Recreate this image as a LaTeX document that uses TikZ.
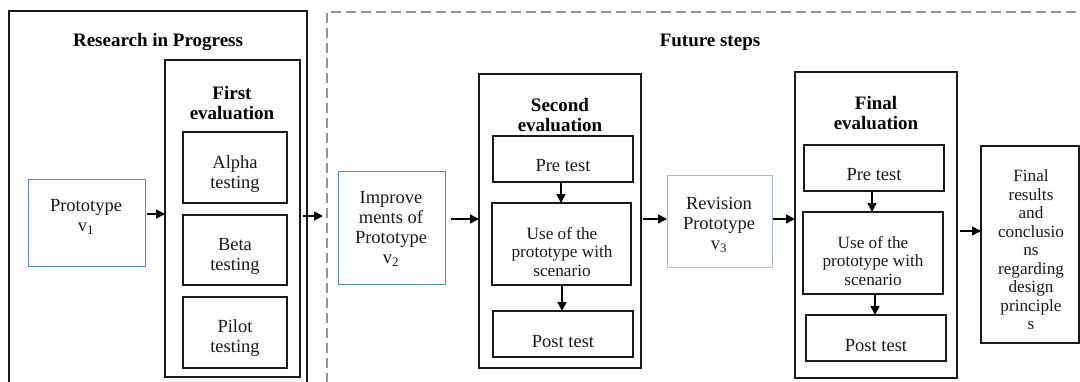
\documentclass[tikz,border=0pt]{standalone}
\usepackage{fontspec}
\setmainfont{Liberation Serif}
\usetikzlibrary{arrows.meta,calc}
\definecolor{bl}{HTML}{5B8BC4}
\definecolor{lbl}{HTML}{A9BDD9}
\definecolor{ink}{HTML}{1A1A1A}
\newcommand{\bx}[6]{\node[#1, anchor=north west, inner sep=0pt, outer sep=0pt, minimum width={(#5-#3)*1pt}, minimum height={(#6-#4)*1pt}] (#2) at (#3,#4) {};}
\tikzset{
  outerbox/.style={draw=ink, line width=1.5pt},
  evalbox/.style={draw=ink, line width=1.8pt},
  inbox/.style={draw=ink, line width=1.8pt},
  bluebox/.style={draw=bl, line width=1pt},
  lbluebox/.style={draw=lbl, line width=1pt},
  dashbox/.style={draw=gray!85, line width=1.3pt, dash pattern=on 10pt off 5pt},
  arr/.style={draw=black, line width=1.5pt, -{Triangle[length=9pt,width=9pt]}},
  txt/.style={font=\fontsize{18.5}{20}\selectfont, align=center, inner sep=0pt, text=ink},
  stxt/.style={font=\fontsize{17.2}{18.5}\selectfont, align=center, inner sep=0pt, text=ink},
  ttl/.style={font=\fontsize{19}{20}\selectfont\bfseries, align=center, inner sep=0pt, text=black}
}
\begin{document}
\begin{tikzpicture}[x=1pt,y=-1pt]
\useasboundingbox (0,0) rectangle (1080,381);
\clip (0,0) rectangle (1080,381);
\fill[white] (0,0) rectangle (1080,381);
% Research in progress
\bx{outerbox}{rip}{9}{11}{307}{400}
\node[ttl] (ript) at (158,42) {Research in Progress};
\bx{bluebox}{pv1}{28}{179}{145}{266}
\node[txt] (pv1t) at (86,217) {Prototype\\v\textsubscript{1}};
\bx{evalbox}{fe}{165}{60}{300}{377}
\node[ttl] (fet) at (232,103) {First\\evaluation};
\bx{inbox}{alpha}{183}{132}{287}{203}
\node[txt] (alphat) at (235,174) {Alpha\\testing};
\bx{inbox}{beta}{183}{215}{287}{285}
\node[txt] (betat) at (235,256) {Beta\\testing};
\bx{inbox}{pilot}{183}{297}{287}{368}
\node[txt] (pilott) at (235,338) {Pilot\\testing};
% Future steps
\bx{dashbox}{fs}{327}{12}{1100}{400}
\node[ttl] (fst) at (710,42) {Future steps};
\bx{bluebox}{imp}{338}{171}{445}{284}
\node[txt] (impt) at (391,229) {Improve\\ments of\\Prototype\\v\textsubscript{2}};
\bx{evalbox}{se}{479}{74}{641}{368}
\node[ttl] (set) at (560,115) {Second\\evaluation};
\bx{inbox}{pre2}{493}{136}{633}{182}
\node[txt] (pre2t) at (563,166) {Pre test};
\bx{inbox}{use2}{492}{203}{631}{285}
\node[stxt] (use2t) at (562,252) {Use of the\\prototype with\\scenario};
\bx{inbox}{post2}{493}{311}{633}{357}
\node[txt] (post2t) at (563,342) {Post test};
\bx{lbluebox}{rev}{667}{175}{772}{267}
\node[txt] (revt) at (719,225) {Revision\\Prototype\\v\textsubscript{3}};
\bx{evalbox}{fin}{795}{72}{957}{378}
\node[ttl] (fint) at (876,113) {Final\\evaluation};
\bx{inbox}{pre3}{804}{145}{944}{191}
\node[txt] (pre3t) at (874,175) {Pre test};
\bx{inbox}{use3}{803}{212}{943}{294}
\node[stxt] (use3t) at (873,261) {Use of the\\prototype with\\scenario};
\bx{inbox}{post3}{806}{315}{946}{361}
\node[txt] (post3t) at (876,346) {Post test};
\bx{inbox}{res}{981}{146}{1079}{343}
\node[stxt] (rest) at (1031,250) {Final\\results\\and\\conclusio\\ns\\regarding\\design\\principle\\s};
% arrows
\draw[arr, shorten <=2pt] (pv1.east |- 0,214) -- (fe.west |- 0,214);
\draw[arr, shorten <=3pt, shorten >=4pt] (fe.east |- 0,216) -- (fs.west |- 0,216);
\draw[arr, shorten <=6pt] (imp.east |- 0,219) -- (se.west |- 0,219);
\draw[arr, shorten <=2pt] (se.east |- 0,219) -- (rev.west |- 0,219);
\draw[arr, shorten <=1pt] (rev.east |- 0,219) -- (fin.west |- 0,219);
\draw[arr, shorten <=3pt] (fin.east |- 0,231) -- (res.west |- 0,231);
\draw[arr] (pre2.south -| 561,0) -- (use2.north -| 561,0);
\draw[arr] (use2.south -| 562,0) -- (post2.north -| 562,0);
\draw[arr] (pre3.south -| 872,0) -- (use3.north -| 872,0);
\draw[arr] (use3.south -| 875,0) -- (post3.north -| 875,0);
\end{tikzpicture}
\end{document}
